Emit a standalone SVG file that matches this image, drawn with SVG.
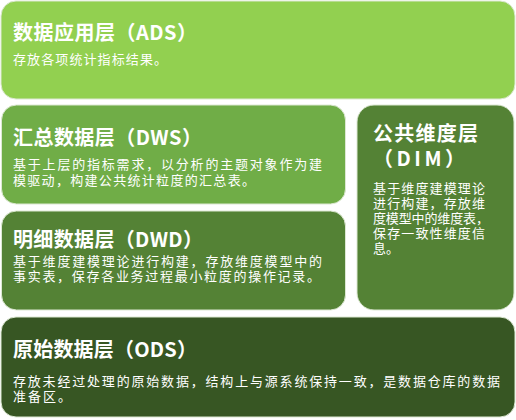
<svg xmlns="http://www.w3.org/2000/svg" width="516" height="420" viewBox="0 0 516 420">
<style>
.box{stroke:#dce8d2;stroke-width:1}
text{fill:#ffffff;font-family:"Noto Sans CJK SC","Noto Sans",sans-serif}
.t{font-size:20px;font-weight:bold}
.d{font-size:13px}
</style>
<rect width="516" height="420" fill="#ffffff"/>
<g id="ads">
<rect class="box" x="1" y="1" width="514" height="98" rx="15" fill="#92D050"/>
<text class="t" x="13" y="40" textLength="184" lengthAdjust="spacing">数据应用层（ADS）</text>
<text class="d" x="13" y="64" textLength="154" lengthAdjust="spacing">存放各项统计指标结果。</text>
</g>
<g id="dws">
<rect class="box" x="1.5" y="105" width="344" height="99" rx="15" fill="#70AD47"/>
<text class="t" x="13" y="145" textLength="189" lengthAdjust="spacing">汇总数据层（DWS）</text>
<text class="d" x="13" y="169" textLength="309" lengthAdjust="spacing">基于上层的指标需求，以分析的主题对象作为建</text>
<text class="d" x="13" y="185" textLength="242" lengthAdjust="spacing">模驱动，构建公共统计粒度的汇总表。</text>
</g>
<g id="dwd">
<rect class="box" x="1.5" y="211" width="344" height="99" rx="15" fill="#548235"/>
<text class="t" x="13" y="247" textLength="190" lengthAdjust="spacing">明细数据层（DWD）</text>
<text class="d" x="13" y="266" textLength="309" lengthAdjust="spacing">基于维度建模理论进行构建，存放维度模型中的</text>
<text class="d" x="13" y="281" textLength="307" lengthAdjust="spacing">事实表，保存各业务过程最小粒度的操作记录。</text>
</g>
<g id="dim">
<rect class="box" x="357" y="105" width="157" height="205" rx="17" fill="#548235"/>
<text class="t" x="373" y="141" textLength="105" lengthAdjust="spacing">公共维度层</text>
<text class="t" x="373" y="166" textLength="92" lengthAdjust="spacing">（DIM）</text>
<text class="d" x="373" y="193" textLength="112" lengthAdjust="spacing">基于维度建模理论</text>
<text class="d" x="373" y="208" textLength="112" lengthAdjust="spacing">进行构建，存放维</text>
<text class="d" x="373" y="223" textLength="116" lengthAdjust="spacing">度模型中的维度表，</text>
<text class="d" x="373" y="238" textLength="112" lengthAdjust="spacing">保存一致性维度信</text>
<text class="d" x="373" y="253" textLength="26" lengthAdjust="spacing">息。</text>
</g>
<g id="ods">
<rect class="box" x="1" y="317" width="514" height="100" rx="15" fill="#375623"/>
<text class="t" x="13" y="357" textLength="184" lengthAdjust="spacing">原始数据层（ODS）</text>
<text class="d" x="13" y="386" textLength="487" lengthAdjust="spacing">存放未经过处理的原始数据，结构上与源系统保持一致，是数据仓库的数据</text>
<text class="d" x="13" y="401" textLength="58" lengthAdjust="spacing">准备区。</text>
</g>
<g id="connectors"/>
</svg>
